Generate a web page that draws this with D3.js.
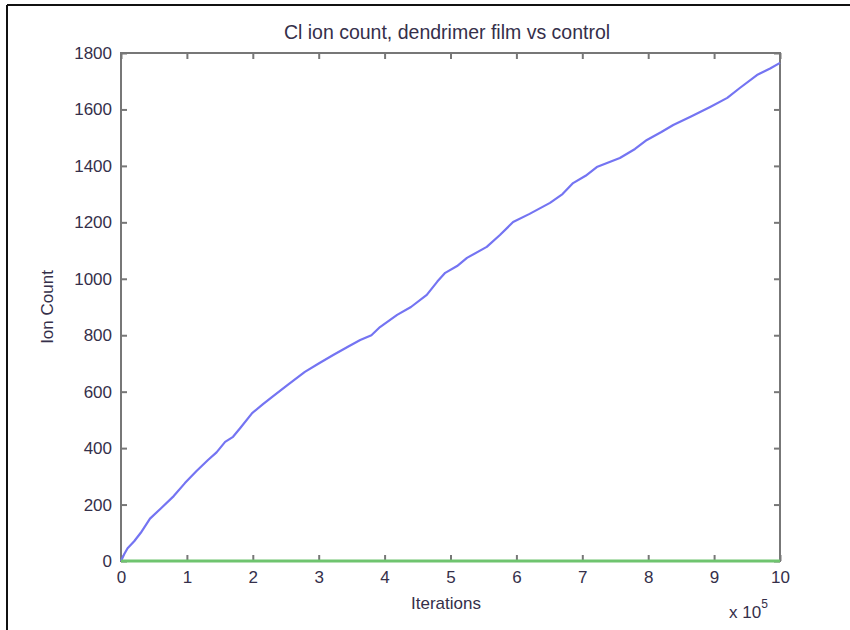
<!DOCTYPE html>
<html>
<head>
<meta charset="utf-8">
<script src="https://cdn.jsdelivr.net/npm/d3@7"></script>
<style>
  body { margin: 0; background: #fff; }
  text { font-family: "Liberation Sans", Arial, sans-serif; }
</style>
</head>
<body>
<div id="chart"></div>
<script>
// iterations (units of 1e5) and ion counts
var filmIter = [0, 0.05, 0.1, 0.2, 0.3, 0.44, 0.6, 0.8, 0.97, 1.15, 1.32, 1.45, 1.58, 1.7, 1.81, 1.99,
  2.15, 2.29, 2.53, 2.79, 3.0, 3.22, 3.45, 3.63, 3.8, 3.93, 4.19, 4.4, 4.64, 4.8, 4.92, 5.1, 5.25,
  5.55, 5.75, 5.95, 6.2, 6.51, 6.7, 6.86, 7.05, 7.22, 7.57, 7.8, 7.98, 8.2, 8.38, 8.65, 8.94, 9.2,
  9.39, 9.65, 9.85, 10];
var filmCount = [0, 25, 45, 70, 100, 150, 185, 230, 276, 320, 358, 385, 422, 440, 471, 524,
  555, 581, 624, 670, 700, 730, 760, 783, 800, 829, 872, 900, 943, 990, 1021, 1045, 1074,
  1113, 1155, 1201, 1230, 1269, 1300, 1339, 1365, 1396, 1428, 1460, 1492, 1520, 1545, 1575, 1609, 1641,
  1676, 1722, 1745, 1765];
var controlIter = [0, 10];
var controlCount = [0, 0];

var xTicks = [0, 1, 2, 3, 4, 5, 6, 7, 8, 9, 10];
var yTicks = [0, 200, 400, 600, 800, 1000, 1200, 1400, 1600, 1800];

var W = 850, H = 630;
var pLeft = 121, pRight = 780, pTop = 53, pBottom = 561;
var txtColor = "#352f4a";

var svg = d3.select("#chart").append("svg").attr("width", W).attr("height", H);

// outer frame (top + left edge of the screenshot)
svg.append("line").attr("x1", 7).attr("y1", 5).attr("x2", W).attr("y2", 5)
  .attr("stroke", "#111").attr("stroke-width", 2);
svg.append("line").attr("x1", 7).attr("y1", 5).attr("x2", 7).attr("y2", H)
  .attr("stroke", "#111").attr("stroke-width", 2);

var x = d3.scaleLinear().domain([0, 10]).range([pLeft, pRight]);
var y = d3.scaleLinear().domain([0, 1800]).range([pBottom, pTop]);

function styleAxis(g, hideText) {
  g.select(".domain").remove();
  g.selectAll(".tick line").attr("stroke", "#777").attr("stroke-width", 2);
  g.selectAll(".tick text").attr("fill", txtColor).attr("font-size", 17);
  if (hideText) g.selectAll(".tick text").remove();
}

// ticks point inward on all four sides
svg.append("g").attr("transform", "translate(0," + pBottom + ")")
  .call(d3.axisBottom(x).tickValues(xTicks).tickSizeInner(-6).tickSizeOuter(0).tickPadding(10).tickFormat(d3.format("d")))
  .call(function (g) { styleAxis(g, false); });
svg.append("g").attr("transform", "translate(0," + pTop + ")")
  .call(d3.axisTop(x).tickValues(xTicks).tickSizeInner(-6).tickSizeOuter(0))
  .call(function (g) { styleAxis(g, true); });
svg.append("g").attr("transform", "translate(" + pLeft + ",0)")
  .call(d3.axisLeft(y).tickValues(yTicks).tickSizeInner(-6).tickSizeOuter(0).tickPadding(9).tickFormat(d3.format("d")))
  .call(function (g) { styleAxis(g, false); });
svg.append("g").attr("transform", "translate(" + pRight + ",0)")
  .call(d3.axisRight(y).tickValues(yTicks).tickSizeInner(-6).tickSizeOuter(0))
  .call(function (g) { styleAxis(g, true); });

// box
svg.append("rect").attr("x", pLeft).attr("y", pTop).attr("width", pRight - pLeft).attr("height", pBottom - pTop)
  .attr("fill", "none").attr("stroke", "#777").attr("stroke-width", 2);

var line = d3.line().x(function (d) { return x(d[0]); }).y(function (d) { return y(d[1]); });

var film = d3.zip(filmIter, filmCount);
var control = d3.zip(controlIter, controlCount);

svg.append("path").attr("d", line(film)).attr("fill", "none")
  .attr("stroke", "#7474f2").attr("stroke-width", 2.2).attr("stroke-linejoin", "round");
svg.append("path").attr("d", line(control)).attr("fill", "none")
  .attr("stroke", "#6fc46f").attr("stroke-width", 3);

// texts
svg.append("text").attr("x", 447).attr("y", 39).attr("text-anchor", "middle")
  .attr("font-size", 19.5).attr("fill", txtColor).text("Cl ion count, dendrimer film vs control");
svg.append("text").attr("x", 446).attr("y", 609).attr("text-anchor", "middle")
  .attr("font-size", 17).attr("fill", txtColor).text("Iterations");
svg.append("text").attr("transform", "translate(53,307) rotate(-90)").attr("text-anchor", "middle")
  .attr("font-size", 17).attr("fill", txtColor).text("Ion Count");
var ex = svg.append("text").attr("x", 729).attr("y", 618).attr("font-size", 17).attr("fill", txtColor);
ex.append("tspan").text("x 10");
ex.append("tspan").attr("dy", -10).attr("font-size", 12).text("5");
</script>
</body>
</html>
